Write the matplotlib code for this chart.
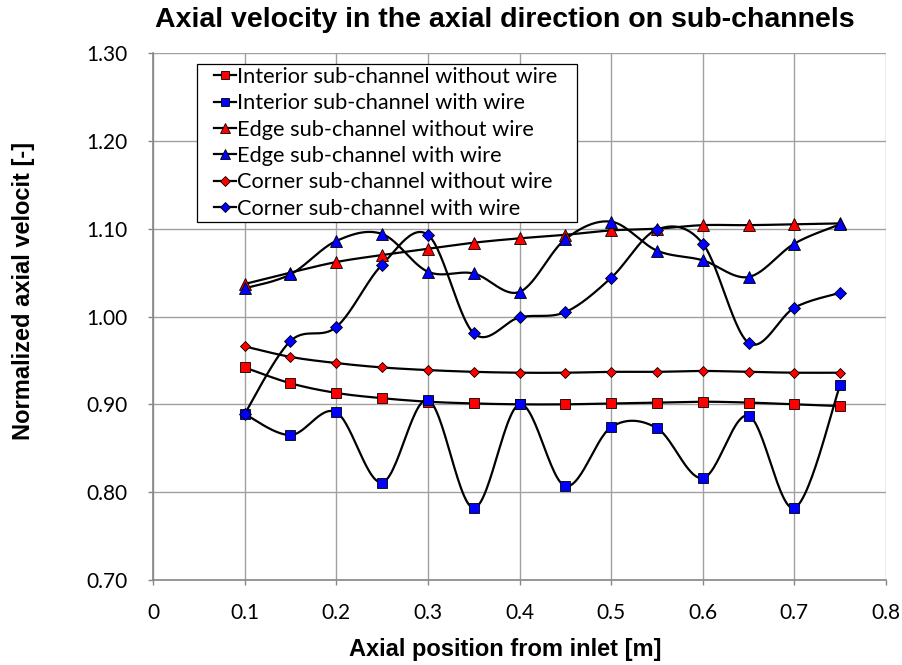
import numpy as np
import matplotlib.pyplot as plt
from matplotlib.lines import Line2D
from matplotlib.patches import Rectangle

# axial positions [m]
x_pos = [0.10, 0.15, 0.20, 0.25, 0.30, 0.35, 0.40, 0.45, 0.50, 0.55, 0.60, 0.65, 0.70, 0.75]

interior_no_wire = [0.942, 0.924, 0.913, 0.907, 0.903, 0.901, 0.900, 0.900, 0.901, 0.902, 0.903, 0.902, 0.900, 0.898]
interior_wire = [0.889, 0.865, 0.891, 0.811, 0.905, 0.782, 0.900, 0.807, 0.874, 0.873, 0.816, 0.887, 0.782, 0.922]
edge_no_wire = [1.037, 1.050, 1.062, 1.070, 1.077, 1.084, 1.089, 1.093, 1.098, 1.100, 1.104, 1.104, 1.105, 1.106]
edge_wire = [1.032, 1.048, 1.086, 1.094, 1.051, 1.049, 1.028, 1.088, 1.108, 1.075, 1.064, 1.045, 1.083, 1.105]
corner_no_wire = [0.966, 0.954, 0.947, 0.942, 0.939, 0.937, 0.936, 0.936, 0.937, 0.937, 0.938, 0.937, 0.936, 0.936]
corner_wire = [0.889, 0.972, 0.988, 1.059, 1.093, 0.981, 0.999, 1.005, 1.044, 1.099, 1.083, 0.970, 1.010, 1.027]

labels = [
    "Interior sub-channel without wire",
    "Interior sub-channel with wire",
    "Edge sub-channel without wire",
    "Edge sub-channel with wire",
    "Corner sub-channel without wire",
    "Corner sub-channel with wire",
]


def smooth(xs, ys, n=30):
    # Excel-style smoothed line: cubic Bezier with Catmull-Rom control points
    xs = np.asarray(xs, float)
    ys = np.asarray(ys, float)
    px = np.concatenate([[xs[0]], xs, [xs[-1]]])
    py = np.concatenate([[ys[0]], ys, [ys[-1]]])
    out_x, out_y = [], []
    t = np.linspace(0, 1, n)
    for i in range(1, len(px) - 2):
        p0 = np.array([px[i], py[i]])
        p3 = np.array([px[i + 1], py[i + 1]])
        c1 = p0 + (np.array([px[i + 1], py[i + 1]]) - np.array([px[i - 1], py[i - 1]])) / 6
        c2 = p3 - (np.array([px[i + 2], py[i + 2]]) - np.array([px[i], py[i]])) / 6
        b = ((1 - t) ** 3)[:, None] * p0 + (3 * (1 - t) ** 2 * t)[:, None] * c1 \
            + (3 * (1 - t) * t ** 2)[:, None] * c2 + (t ** 3)[:, None] * p3
        out_x.extend(b[:, 0])
        out_y.extend(b[:, 1])
    return out_x, out_y


series = [
    (interior_no_wire, "s", "red", 7.5),
    (interior_wire, "s", "blue", 7.5),
    (edge_no_wire, "^", "red", 8),
    (edge_wire, "^", "blue", 8),
    (corner_no_wire, "D", "red", 5.5),
    (corner_wire, "D", "blue", 6),
]

W, H = 902, 665
fig = plt.figure(figsize=(W / 100, H / 100), dpi=100)
ax = fig.add_axes([153 / W, 85 / H, 733 / W, 527 / H])

handles = []
for (vals, mk, col, ms), lab in zip(series, labels):
    sx, sy = smooth(x_pos, vals)
    ax.plot(sx, sy, color="black", lw=1.6, zorder=2)
    ax.plot(x_pos, vals, ls="none", marker=mk, ms=ms, mfc=col, mec="black", mew=0.6, zorder=3)
    handles.append(Line2D([], [], color="black", lw=1.6, marker=mk, ms=ms * 0.85,
                          mfc=col, mec="black", mew=0.6))

ax.set_xlim(0, 0.8)
ax.set_ylim(0.70, 1.30)
ax.set_xticks(np.arange(0, 0.81, 0.1))
ax.set_xticklabels(["0", "0.1", "0.2", "0.3", "0.4", "0.5", "0.6", "0.7", "0.8"])
ax.set_yticks(np.arange(0.70, 1.301, 0.10))
ax.set_yticklabels([f"{v:.2f}" for v in np.arange(0.70, 1.301, 0.10)])
ax.grid(True, color="#a0a0a0", lw=1.0)
ax.set_axisbelow(True)
for s in ["top", "right"]:
    ax.spines[s].set_visible(False)
for s in ["left", "bottom"]:
    ax.spines[s].set_color("#868686")
    ax.spines[s].set_linewidth(1.2)
ax.tick_params(axis="both", labelsize=15, length=3.5, width=1, color="#868686",
               labelcolor="black")
ax.tick_params(axis="x", pad=13)
ax.tick_params(axis="y", pad=15)
for lbl in ax.get_xticklabels() + ax.get_yticklabels():
    lbl.set_family("Lato")

fig.text(0.56, 0.970, "Axial velocity in the axial direction on sub-channels",
         ha="center", va="center", fontsize=20.5, fontweight="bold", family="Liberation Sans")
fig.text(0.56, 0.0226, "Axial position from inlet [m]", ha="center", va="center",
         fontsize=17, fontweight="bold", family="Liberation Sans")
fig.text(0.0255, 0.5624, "Normalized axial velocit [-]", ha="center", va="center",
         rotation=90, fontsize=17, fontweight="bold", family="Liberation Sans")

# legend box drawn separately so the left inset can be wider than the top one
box = Rectangle((197 / W, (H - 222) / H), 380 / W, 158 / H, transform=fig.transFigure,
                facecolor="white", edgecolor="black", lw=0.9, zorder=4, clip_on=False)
ax.add_patch(box)
leg = ax.legend(handles, labels, loc="upper left",
                bbox_to_anchor=(214 / W, (H - 67) / H), bbox_transform=fig.transFigure,
                prop={"family": "Lato", "size": 15.7}, frameon=False,
                handlelength=1.0, handletextpad=0.05,
                labelspacing=0.29, borderpad=0.0, borderaxespad=0)
leg.set_zorder(5)

fig.savefig("out.png", dpi=100)
